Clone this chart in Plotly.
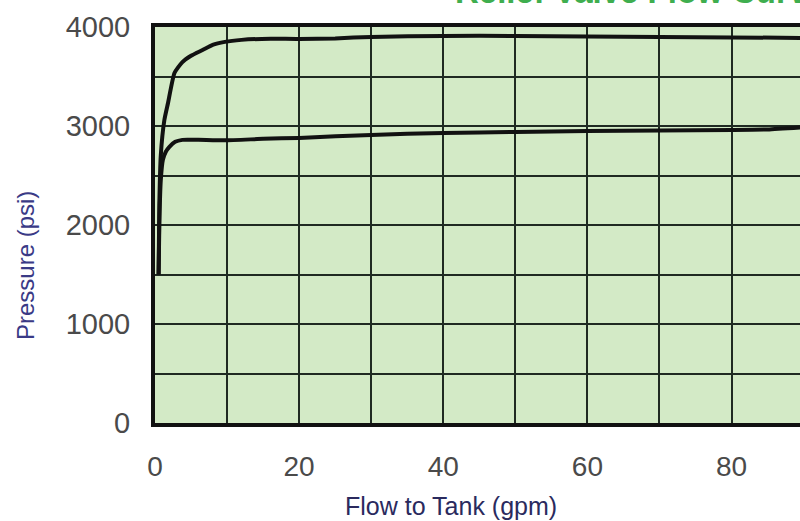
import plotly.graph_objects as go

# Data
upper_flow = [0.5, 0.6, 0.8, 1.3, 1.8, 2.7, 3.8, 5, 6.6, 8, 9.7, 12, 14.8, 20, 25, 30, 40, 50, 60, 70, 80, 89.5]
upper_psi = [1500, 2200, 2700, 3060, 3230, 3535, 3646, 3710, 3768, 3820, 3850, 3870, 3880, 3880, 3885, 3900, 3910, 3910, 3905, 3900, 3895, 3890]

lower_flow = [0.5, 0.6, 0.8, 1.1, 1.5, 2, 2.8, 3.8, 6, 9.7, 15, 20, 30, 40, 50, 60, 70, 80, 85, 89.5]
lower_psi = [1500, 2000, 2450, 2660, 2740, 2790, 2840, 2860, 2860, 2855, 2870, 2880, 2910, 2930, 2940, 2950, 2955, 2960, 2965, 2985]

x_ticks = [0, 20, 40, 60, 80]
y_ticks = [0, 1000, 2000, 3000, 4000]

title_text = "Relief Valve Flow Curve"
x_title = "Flow to Tank (gpm)"
y_title = "Pressure (psi)"

FONT = "Liberation Sans, Arial, sans-serif"
GRID = "#1f2a22"

L, T, PW, PH = 155, 27, 645, 396

def px_x(p):
    return (p - L) / PW

def px_y(p):
    return 1 - (p - T) / PH

fig = go.Figure()
for xs, ys in [(upper_flow, upper_psi), (lower_flow, lower_psi)]:
    fig.add_trace(go.Scatter(x=xs, y=ys, mode="lines",
                             line=dict(color="#111111", width=4, shape="spline", smoothing=0.5),
                             hoverinfo="skip", showlegend=False))

fig.update_layout(
    width=800, height=521,
    margin=dict(l=L, r=0, t=T, b=521 - T - PH, autoexpand=False),
    paper_bgcolor="white",
    plot_bgcolor="#d3eac6",
    font=dict(family=FONT),
    showlegend=False,
    xaxis=dict(
        range=[0, 89.5],
        tickvals=x_ticks, ticktext=[str(v) for v in x_ticks],
        showgrid=True, gridcolor=GRID, gridwidth=2,
        minor=dict(dtick=10, tick0=0, showgrid=True, gridcolor=GRID, gridwidth=2),
        showline=True, linecolor="#111111", linewidth=4, mirror=True,
        zeroline=False, ticks="",
        ticklabelstandoff=15,
        tickfont=dict(size=28, color="#4a4a4a"),
        automargin=False,
    ),
    yaxis=dict(
        range=[0, 4000],
        tickvals=y_ticks, ticktext=[str(v) for v in y_ticks],
        showgrid=True, gridcolor=GRID, gridwidth=2,
        minor=dict(dtick=500, tick0=0, showgrid=True, gridcolor=GRID, gridwidth=2),
        showline=True, linecolor="#111111", linewidth=4, mirror=False,
        zeroline=False, ticks="",
        ticklabelstandoff=15,
        tickfont=dict(size=29, color="#4a4a4a"),
        automargin=False,
    ),
)

fig.add_annotation(
    text="<b>" + title_text + "</b>",
    xref="paper", yref="paper",
    x=px_x(453), y=px_y(-9),
    xanchor="left", yanchor="middle",
    showarrow=False,
    font=dict(size=33, color="#3fae4f", family=FONT),
)
fig.add_annotation(
    text=x_title, xref="paper", yref="paper",
    x=px_x(451), y=px_y(506), xanchor="center", yanchor="middle",
    showarrow=False, font=dict(size=25, color="#2a2a5e", family=FONT),
)
fig.add_annotation(
    text=y_title, xref="paper", yref="paper", textangle=-90,
    x=px_x(25), y=px_y(266), xanchor="center", yanchor="middle",
    showarrow=False, font=dict(size=24, color="#3a3a86", family=FONT),
)

fig.write_html("out.html", config={"displayModeBar": False},
               post_script="document.body.style.margin='0';document.body.style.overflow='hidden';")
